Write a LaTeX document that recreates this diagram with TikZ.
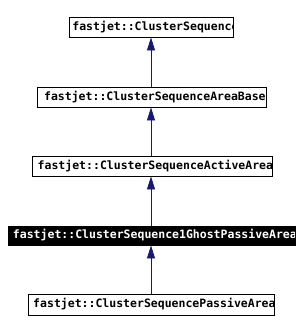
\documentclass[tikz,border=0pt]{standalone}
\usepackage{fontspec}
\setmonofont{DejaVu Sans Mono}
\usetikzlibrary{arrows.meta}
\definecolor{edgeblue}{HTML}{191970}
\tikzset{
  x=1pt, y=-1pt,
  cls/.style 2 args={draw=black, line width=0.8pt, rectangle, inner sep=0pt,
    minimum width=#1, minimum height=#2,
    path picture={\node[anchor=west, inner sep=0pt, font=\ttfamily\bfseries\fontsize{11.5}{12}\selectfont]
      at ([xshift=3pt]path picture bounding box.west) {\clstext};}},
  inh/.style={draw=edgeblue, line width=0.8pt, -{Triangle[width=8pt,length=13pt]}},
}
\newcommand{\clstext}{}
\begin{document}
\begin{tikzpicture}
\useasboundingbox (0,0) rectangle (300,332);
\renewcommand{\clstext}{fastjet::ClusterSequence}
\node[cls={164pt}{20pt}] (b1) at (151,27) {};
\renewcommand{\clstext}{fastjet::ClusterSequenceAreaBase}
\node[cls={229pt}{20pt}] (b2) at (151.5,97) {};
\renewcommand{\clstext}{fastjet::ClusterSequenceActiveArea}
\node[cls={240pt}{20pt}] (b3) at (152,166) {};
\renewcommand{\clstext}{\color{white}fastjet::ClusterSequence1GhostPassiveArea}
\node[cls={287pt}{19pt}, fill=black] (b4) at (151.5,235.5) {};
\renewcommand{\clstext}{fastjet::ClusterSequencePassiveArea}
\node[cls={246pt}{21pt}] (b5) at (151,304.5) {};
\draw[inh] (b2.north -| b1.south) -- (b1.south);
\draw[inh] (b3.north -| b1.south) -- (b1.south |- b2.south);
\draw[inh] (b4.north -| b1.south) -- (b1.south |- b3.south);
\draw[inh] (b5.north -| b1.south) -- (b1.south |- b4.south);
\end{tikzpicture}
\end{document}
